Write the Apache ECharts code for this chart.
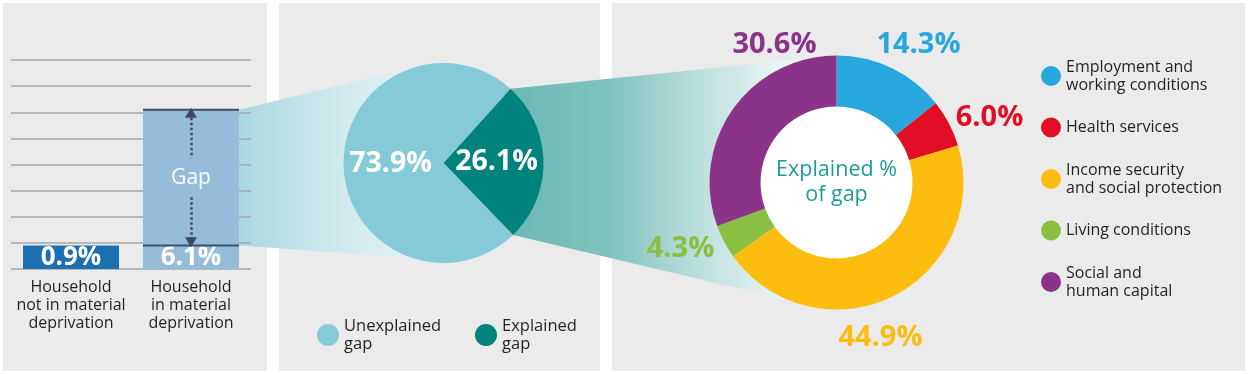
<!DOCTYPE html>
<html><head><meta charset="utf-8">
<script src="https://cdn.jsdelivr.net/npm/echarts@6/dist/echarts.min.js"></script>
<style>html,body{margin:0;padding:0;background:#fff}#c{width:1248px;height:374px}</style>
</head><body><div id="c"></div>
<script>
// ---- data ----
const barCategories = ['Household\nnot in material\ndeprivation', 'Household\nin material\ndeprivation'];
const barValues = [0.9, 6.1];
const gapLabel = 'Gap';
const yMin = 0, yMax = 8, yStep = 1;
const pieNames = ['Explained gap', 'Unexplained gap'];
const pieValues = [26.1, 73.9];
const donutNames = ['Employment and\nworking conditions', 'Health services', 'Income security\nand social protection', 'Living conditions', 'Social and\nhuman capital'];
const donutValues = [14.3, 6.0, 44.9, 4.3, 30.6];
const centerText = 'Explained %\nof gap';

// ---- styles / layout ----
const pieColors = ['#00827d', '#84cbd7'];
const donutColors = ['#28a7df', '#e20e25', '#fcbd0f', '#8bbf41', '#8a3388'];
const pieC = [443.5, 163], pieR = 100, pieStart = 48;
const donC = [836.5, 182.5], donR = [76, 127];
const donutLabelOffsets = [[82, -138], [153, -65], [44, 155], [-156, 66], [-62, -138]];
const FONT = 'Open Sans';
const textDark = '#231f20';

const chart = echarts.init(document.getElementById('c'), null, {renderer: 'canvas'});
const fmt = v => v.toFixed(1) + '%';
const gapMid = (barValues[0] + barValues[1]) / 2;

const option = {
  animation: false,
  backgroundColor: '#ffffff',
  textStyle: {fontFamily: FONT},
  grid: {left: 11, top: 60, width: 240, height: 209, containLabel: false},
  xAxis: {
    type: 'category', data: barCategories,
    axisLine: {show: false}, axisTick: {show: false},
    axisLabel: {color: textDark, fontSize: 16, lineHeight: 18, margin: 9, interval: 0, fontFamily: FONT}
  },
  yAxis: {
    type: 'value', min: yMin, max: yMax, interval: yStep,
    axisLabel: {show: false}, axisLine: {show: false}, axisTick: {show: false},
    splitLine: {lineStyle: {color: '#a6a6a6', width: 1.5}}
  },
  legend: [
    {data: ['Unexplained gap'], left: 312, top: 306, icon: 'circle', itemWidth: 22, itemHeight: 22,
     selectedMode: false, formatter: n => n.replace(' ', '\n'),
     textStyle: {color: textDark, fontSize: 16.5, lineHeight: 18, fontFamily: FONT, padding: [12, 0, 0, 0]}},
    {data: ['Explained gap'], left: 470, top: 306, icon: 'circle', itemWidth: 22, itemHeight: 22,
     selectedMode: false, formatter: n => n.replace(' ', '\n'),
     textStyle: {color: textDark, fontSize: 16.5, lineHeight: 18, fontFamily: FONT, padding: [12, 0, 0, 0]}},
    {data: donutNames, left: 1036, top: 53, orient: 'vertical', icon: 'circle', itemWidth: 20, itemHeight: 20,
     itemGap: 15.5, selectedMode: false,
     formatter: n => n.indexOf('\n') >= 0 ? n : '{s|' + n + '}',
     textStyle: {color: textDark, fontSize: 16, lineHeight: 18, fontFamily: FONT,
       rich: {s: {color: textDark, fontSize: 16, lineHeight: 36, fontFamily: FONT}}}}
  ],
  series: [
    {
      type: 'bar', name: 'base', stack: 'a', barWidth: 96, z: 2,
      data: barValues.map((v, i) => ({value: barValues[0], itemStyle: {color: i === 0 ? '#1c70b1' : '#95bcd9'}})),
      label: {show: true, position: 'inside', formatter: p => fmt(barValues[p.dataIndex]),
        color: '#fff', fontSize: 26, fontWeight: 'bold', fontFamily: FONT},
      emphasis: {disabled: true}
    },
    {
      type: 'bar', name: 'gap', stack: 'a', barWidth: 96, z: 2,
      data: barValues.map((v, i) => i === 0 ? '-' : +(barValues[1] - barValues[0]).toFixed(1)),
      itemStyle: {color: '#95bcd9'},
      label: {show: true, position: 'inside', formatter: gapLabel, color: '#fff', fontSize: 21, fontFamily: FONT},
      emphasis: {disabled: true},
      markLine: {
        silent: true, symbolSize: [12, 10], label: {show: false},
        lineStyle: {type: 'dotted', color: '#3b4a60', width: 2.5},
        emphasis: {disabled: true},
        data: [
          [{coord: [1, barValues[1] - 0.12], symbol: 'triangle'}, {coord: [1, gapMid + 0.75], symbol: 'none'}],
          [{coord: [1, gapMid - 0.75], symbol: 'none'}, {coord: [1, barValues[0] + 0.12], symbol: 'triangle'}]
        ]
      }
    },
    {
      type: 'custom', name: 'refLines', z: 3, silent: true,
      data: [[1, barValues[1]], [1, barValues[0]]],
      encode: {x: 0, y: 1},
      renderItem: (params, api) => {
        const p = api.coord([api.value(0), api.value(1)]);
        const w = api.size([1, 0])[0] * 0.8;
        return {type: 'line', shape: {x1: p[0] - w / 2, y1: p[1], x2: p[0] + w / 2, y2: p[1]},
          style: {stroke: '#3d5068', lineWidth: 2}};
      }
    },
    {
      type: 'pie', name: 'gapSplit', center: pieC, radius: pieR, startAngle: pieStart, clockwise: true,
      data: pieNames.map((n, i) => ({name: n, value: pieValues[i], itemStyle: {color: pieColors[i]}})),
      label: {show: true, position: 'inside', formatter: p => fmt(p.value), color: '#fff',
        fontSize: 28.5, fontWeight: 'bold', fontFamily: FONT},
      labelLine: {show: false}, emphasis: {disabled: true}, silent: true
    },
    {
      type: 'pie', name: 'hole', center: donC, radius: [0, donR[0]], silent: true, z: 1,
      data: [{value: 1, name: 'hole', itemStyle: {color: '#ffffff'}}],
      label: {show: true, position: 'center', formatter: centerText, color: '#1f9c98',
        fontSize: 21.5, lineHeight: 25, fontFamily: FONT},
      labelLine: {show: false}, emphasis: {disabled: true}
    },
    {
      type: 'pie', name: 'explained', center: donC, radius: donR, startAngle: 90, clockwise: true,
      data: donutNames.map((n, i) => ({name: n, value: donutValues[i], itemStyle: {color: donutColors[i]},
        label: {color: donutColors[i]}})),
      label: {show: true, position: 'outside', formatter: p => fmt(p.value),
        fontSize: 29, fontWeight: 'bold', fontFamily: FONT},
      labelLine: {show: false},
      labelLayout: p => {
        const o = donutLabelOffsets[p.dataIndex];
        return {x: donC[0] + o[0], y: donC[1] + o[1], align: 'center', verticalAlign: 'middle'};
      },
      emphasis: {disabled: true}, silent: true
    }
  ]
};
chart.setOption(option);

// ---- decorative connectors computed from the chart geometry ----
const topPx = chart.convertToPixel({xAxisIndex: 0, yAxisIndex: 0}, [1, barValues[1]]);
const botPx = chart.convertToPixel({xAxisIndex: 0, yAxisIndex: 0}, [1, barValues[0]]);
const barRight = topPx[0] + 48;
const A = [barRight, topPx[1]], B = [barRight, botPx[1]];
const dx = pieC[0] - A[0], dy = pieC[1] - A[1];
const d = Math.hypot(dx, dy);
const dir = Math.atan2(dy, dx) - Math.asin(pieR / d);
const L = Math.sqrt(d * d - pieR * pieR);
const T = [A[0] + L * Math.cos(dir), A[1] + L * Math.sin(dir)];
const poly1 = [A, T, pieC, [pieC[0], pieC[1] + pieR * 0.97], B];

const rad = a => a * Math.PI / 180;
const a1 = pieStart, a2 = pieStart - pieValues[0] * 3.6;
const P1 = [pieC[0] + pieR * Math.cos(rad(a1)), pieC[1] - pieR * Math.sin(rad(a1))];
const P5 = [pieC[0] + pieR * Math.cos(rad(a2)), pieC[1] - pieR * Math.sin(rad(a2))];
const D1 = [donC[0], donC[1] - donR[1]];
const D2 = [donC[0] + donR[1] * Math.cos(rad(-112)), donC[1] - donR[1] * Math.sin(rad(-112))];
const poly2 = [pieC, P1, D1, donC, D2, P5];

chart.setOption({
  graphic: [
    {type: 'rect', z: -20, silent: true, shape: {x: 3, y: 3, width: 264, height: 368}, style: {fill: '#ebebeb'}},
    {type: 'rect', z: -20, silent: true, shape: {x: 279, y: 3, width: 321, height: 368}, style: {fill: '#ebebeb'}},
    {type: 'rect', z: -20, silent: true, shape: {x: 612, y: 3, width: 633, height: 368}, style: {fill: '#ebebeb'}},
    {type: 'polygon', z: -10, silent: true, shape: {points: poly1},
      style: {fill: new echarts.graphic.LinearGradient(A[0], 0, T[0] + 10, 0, [
        {offset: 0, color: '#a8d8df'}, {offset: 0.5, color: '#cfe9ee'}, {offset: 1, color: '#e6f4f6'}], true)}},
    {type: 'polygon', z: -10, silent: true, shape: {points: poly2},
      style: {fill: new echarts.graphic.LinearGradient(P1[0], 0, D2[0], 0, [
        {offset: 0, color: '#6cb8b5'}, {offset: 0.35, color: '#80c2bf'}, {offset: 0.7, color: '#bfe1df'}, {offset: 1, color: '#eef7f7'}], true)}}
  ]
});
</script></body></html>
